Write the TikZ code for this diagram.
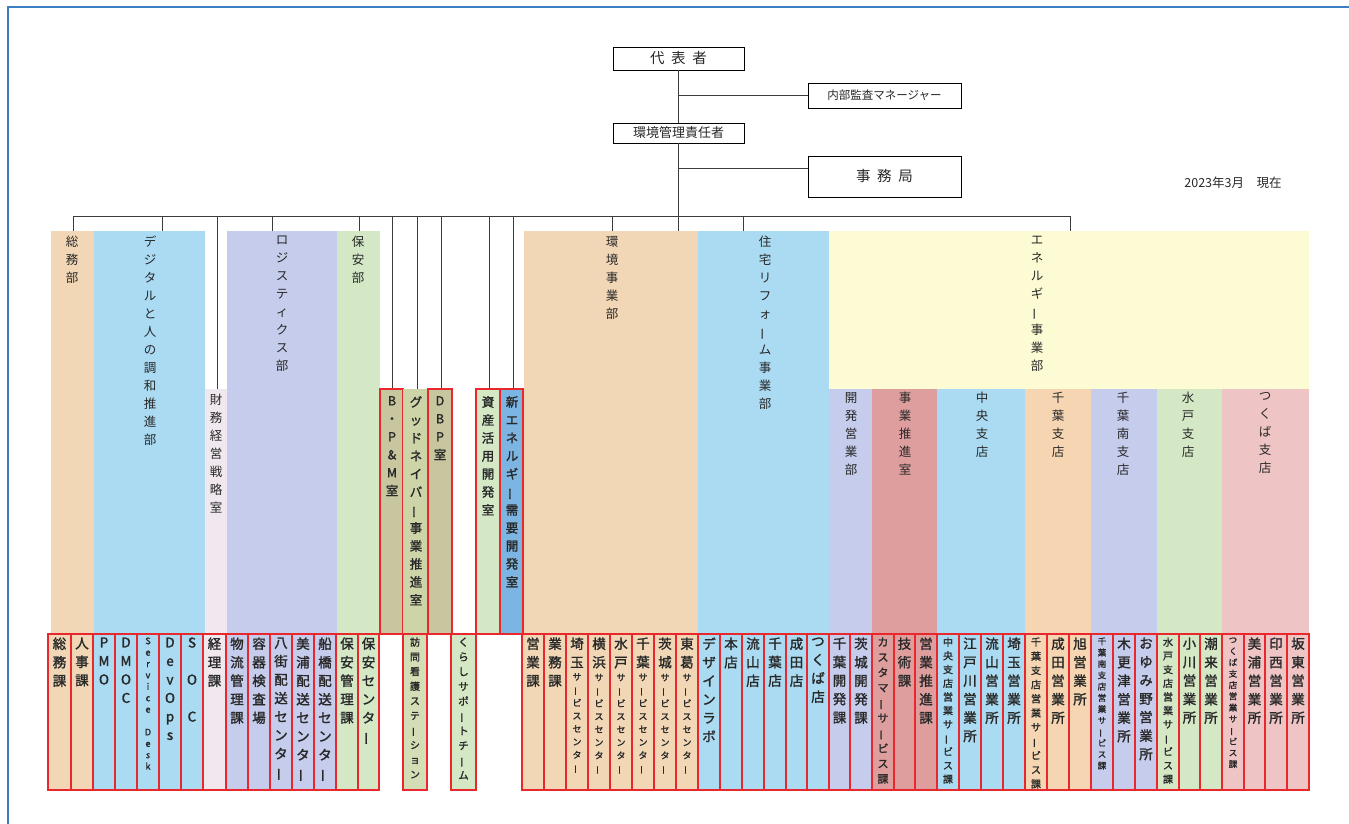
\documentclass[tikz,border=0pt]{standalone}
\usepackage{fontspec}
\usepackage{graphicx}
\usetikzlibrary{fit}
\newfontfamily\cjk{Noto Sans CJK JP}
\newfontfamily\cjkm[FakeBold=1.6]{Noto Sans CJK JP}
\newcommand\vb{\rotatebox[origin=c]{90}{ー}}
\definecolor{tan}{RGB}{242,215,182}
\definecolor{lblue}{RGB}{170,219,242}
\definecolor{lav}{RGB}{198,204,236}
\definecolor{green}{RGB}{212,232,198}
\definecolor{pale}{RGB}{240,232,238}
\definecolor{olive}{RGB}{200,198,158}
\definecolor{olivetwo}{RGB}{204,212,168}
\definecolor{nblue}{RGB}{124,180,226}
\definecolor{yel}{RGB}{253,251,212}
\definecolor{redp}{RGB}{222,158,158}
\definecolor{peach}{RGB}{246,214,178}
\definecolor{pink}{RGB}{238,196,196}
\definecolor{visit}{RGB}{212,222,182}
\definecolor{redb}{RGB}{232,40,45}
\definecolor{txt}{RGB}{40,40,40}
\definecolor{linec}{RGB}{60,60,60}
\definecolor{framec}{RGB}{58,127,193}
\tikzset{
  panel/.style={draw=none, inner sep=0pt},
  redpanel/.style={draw=redb, line width=1.4pt, inner sep=0pt},
  leafbox/.style={draw=redb, line width=1.4pt, inner sep=0pt},
  plbl/.style={font=\cjk\fontsize{12.5}{18}\selectfont, align=center, inner sep=0pt, anchor=north, text=txt},
  pbold/.style={plbl, font=\cjkm\fontsize{12.5}{18}\selectfont},
  lt/.style={font=\cjkm\fontsize{13.5}{18.5}\selectfont, align=center, inner sep=0pt, text=txt},
  lsm/.style={font=\cjkm\fontsize{9}{13}\selectfont, align=center, inner sep=0pt, text=txt},
  topbox/.style={draw=black, line width=0.9pt, fill=white, inner sep=0pt, text=txt},
  conn/.style={draw=linec, line width=1pt},
}
\newcommand\leaf[6]{%
  \node[leafbox, fill=#4, fit={(#2,634) (#3,790)}] (#1) {};
  \node[#5, anchor=north] (#1t) at ([yshift=-4pt]#1.north) {#6};
}
\newcommand\leafm[6]{%
  \node[leafbox, fill=#4, fit={(#2,634) (#3,790)}] (#1) {};
  \node[lt, anchor=north] (#1t) at ([yshift=-4pt]#1.north) {#5};
  \node[lsm, anchor=north] (#1s) at ([yshift=-5pt]#1t.south) {#6};
}
\begin{document}
\begin{tikzpicture}[x=1pt,y=-1pt]
\useasboundingbox (0,0) rectangle (1349,824);
\draw[framec, line width=1.5pt] (8,824) -- (8,7) -- (1349,7);

% top-level panels
\node[panel, fill=tan, fit={(51,231) (94,634)}] (somu) {};
\node[panel, fill=lblue, fit={(94,231) (205,634)}] (digi) {};
\node[panel, fill=pale, fit={(205,389) (227,634)}] (zaimu) {};
\node[panel, fill=lav, fit={(227,231) (337,634)}] (logi) {};
\node[panel, fill=green, fit={(337,231) (380,634)}] (hoan) {};
\node[redpanel, fill=olive, fit={(380,389) (403,634)}] (bpm) {};
\node[panel, fill=olivetwo, fit={(403,389) (428,634)}] (good) {};
\node[redpanel, fill=olive, fit={(428,389) (452,634)}] (dbp) {};
\node[redpanel, fill=green, fit={(476,389) (500,634)}] (shisan) {};
\node[redpanel, fill=nblue, fit={(500,389) (523,634)}] (shinene) {};
\node[panel, fill=tan, fit={(524,231) (698,634)}] (kanj) {};
\node[panel, fill=lblue, fit={(698,231) (829,634)}] (jutaku) {};
\node[panel, fill=yel, fit={(829,231) (1309,389)}] (ene) {};
\node[panel, fill=lav, fit={(829,389) (872,634)}] (kaihatsu) {};
\node[panel, fill=redp, fit={(872,389) (937,634)}] (suishin) {};
\node[panel, fill=lblue, fit={(937,389) (1025,634)}] (chuo) {};
\node[panel, fill=peach, fit={(1025,389) (1091,634)}] (chiba) {};
\node[panel, fill=lav, fit={(1091,389) (1157,634)}] (chibas) {};
\node[panel, fill=green, fit={(1157,389) (1222,634)}] (mito) {};
\node[panel, fill=pink, fit={(1222,389) (1309,634)}] (tsukuba) {};

% panel labels
\node[plbl] (somut) at (72,236) {総\\務\\部};
\node[plbl] (digit) at (150,236) {デ\\ジ\\タ\\ル\\と\\人\\の\\調\\和\\推\\進\\部};
\node[plbl] (zaimut) at (216,394) {財\\務\\経\\営\\戦\\略\\室};
\node[plbl] (logit) at (282,236) {ロ\\ジ\\ス\\テ\\ィ\\ク\\ス\\部};
\node[plbl] (hoant) at (358,236) {保\\安\\部};
\node[pbold] (bpmt) at (392,396) {B\\・\\P\\\&\\M\\室};
\node[pbold] (goodt) at (416,396) {グ\\ッ\\ド\\ネ\\イ\\バ\\\vb\\事\\業\\推\\進\\室};
\node[pbold] (dbpt) at (440,396) {D\\B\\P\\室};
\node[pbold] (shisant) at (488,396) {資\\産\\活\\用\\開\\発\\室};
\node[pbold] (shinenet) at (512,396) {新\\エ\\ネ\\ル\\ギ\\\vb\\需\\要\\開\\発\\室};
\node[plbl] (kanjt) at (612,236) {環\\境\\事\\業\\部};
\node[plbl] (jutakut) at (765,236) {住\\宅\\リ\\フ\\ォ\\\vb\\ム\\事\\業\\部};
\node[plbl] (enet) at (1037,236) {エ\\ネ\\ル\\ギ\\\vb\\事\\業\\部};
\node[plbl] (kaihatsut) at (851,392) {開\\発\\営\\業\\部};
\node[plbl] (suishint) at (905,392) {事\\業\\推\\進\\室};
\node[plbl] (chuot) at (982,392) {中\\央\\支\\店};
\node[plbl] (chibat) at (1058,392) {千\\葉\\支\\店};
\node[plbl] (chibast) at (1123,392) {千\\葉\\南\\支\\店};
\node[plbl] (mitot) at (1188,392) {水\\戸\\支\\店};
\node[plbl] (tsukubat) at (1265,392) {つ\\く\\ば\\支\\店};

% leaves
\leaf{L1}{48}{71}{tan}{lt}{総\\務\\課}
\leaf{L2}{71}{93}{tan}{lt}{人\\事\\課}
\leaf{L3}{93}{115}{lblue}{lt}{P\\M\\O}
\leaf{L4}{115}{137}{lblue}{lt}{D\\M\\O\\C}
\leaf{L5}{137}{159}{lblue}{lt,font=\cjkm\fontsize{9}{11.4}\selectfont}{S\\e\\r\\v\\i\\c\\e\\\mbox{}\\D\\e\\s\\k}
\leaf{L6}{159}{181}{lblue}{lt}{D\\e\\v\\O\\p\\s}
\leaf{L7}{181}{203}{lblue}{lt}{S\\\mbox{}\\O\\\mbox{}\\C}
\leaf{L8}{203}{226}{pale}{lt}{経\\理\\課}
\leaf{L9}{226}{248}{lav}{lt}{物\\流\\管\\理\\課}
\leaf{L10}{248}{270}{lav}{lt}{容\\器\\検\\査\\場}
\leaf{L11}{270}{292}{lav}{lt}{八\\街\\配\\送\\セ\\ン\\タ\\\vb}
\leaf{L12}{292}{314}{lav}{lt}{美\\浦\\配\\送\\セ\\ン\\タ\\\vb}
\leaf{L13}{314}{336}{lav}{lt}{船\\橋\\配\\送\\セ\\ン\\タ\\\vb}
\leaf{L14}{336}{358}{green}{lt}{保\\安\\管\\理\\課}
\leaf{L15}{358}{379}{green}{lt}{保\\安\\セ\\ン\\タ\\\vb}
\leaf{L16}{403}{427}{visit}{lt,font=\cjkm\fontsize{10}{14.7}\selectfont}{訪\\問\\看\\護\\ス\\テ\\\vb\\シ\\ョ\\ン}
\leaf{L17}{451}{476}{green}{lt,font=\cjkm\fontsize{10.5}{14.8}\selectfont}{く\\ら\\し\\サ\\ポ\\\vb\\ト\\チ\\\vb\\ム}
\leaf{L18}{522}{544}{tan}{lt}{営\\業\\課}
\leaf{L19}{544}{566}{tan}{lt}{業\\務\\課}
\leafm{L20}{566}{588}{tan}{埼\\玉}{サ\\\vb\\ビ\\ス\\セ\\ン\\タ\\\vb}
\leafm{L21}{588}{610}{tan}{横\\浜}{サ\\\vb\\ビ\\ス\\セ\\ン\\タ\\\vb}
\leafm{L22}{610}{632}{tan}{水\\戸}{サ\\\vb\\ビ\\ス\\セ\\ン\\タ\\\vb}
\leafm{L23}{632}{654}{tan}{千\\葉}{サ\\\vb\\ビ\\ス\\セ\\ン\\タ\\\vb}
\leafm{L24}{654}{676}{tan}{茨\\城}{サ\\\vb\\ビ\\ス\\セ\\ン\\タ\\\vb}
\leafm{L25}{676}{698}{tan}{東\\葛}{サ\\\vb\\ビ\\ス\\セ\\ン\\タ\\\vb}
\leaf{L26}{698}{720}{lblue}{lt}{デ\\ザ\\イ\\ン\\ラ\\ボ}
\leaf{L27}{720}{742}{lblue}{lt}{本\\店}
\leaf{L28}{742}{764}{lblue}{lt}{流\\山\\店}
\leaf{L29}{764}{786}{lblue}{lt}{千\\葉\\店}
\leaf{L30}{786}{807}{lblue}{lt}{成\\田\\店}
\leaf{L31}{807}{829}{lblue}{lt}{つ\\く\\ば\\店}
\leaf{L32}{829}{850}{lav}{lt}{千\\葉\\開\\発\\課}
\leaf{L33}{850}{872}{lav}{lt}{茨\\城\\開\\発\\課}
\leaf{L34}{872}{894}{redp}{lt,font=\cjkm\fontsize{11}{15.2}\selectfont}{カ\\ス\\タ\\マ\\\vb\\サ\\\vb\\ビ\\ス\\課}
\leaf{L35}{894}{915}{redp}{lt}{技\\術\\課}
\leaf{L36}{915}{937}{redp}{lt}{営\\業\\推\\進\\課}
\leaf{L37}{937}{959}{lblue}{lt,font=\cjkm\fontsize{10}{13.7}\selectfont}{中\\央\\支\\店\\営\\業\\サ\\\vb\\ビ\\ス\\課}
\leaf{L38}{959}{981}{lblue}{lt}{江\\戸\\川\\営\\業\\所}
\leaf{L39}{981}{1003}{lblue}{lt}{流\\山\\営\\業\\所}
\leaf{L40}{1003}{1025}{lblue}{lt}{埼\\玉\\営\\業\\所}
\leaf{L41}{1025}{1047}{peach}{lt,font=\cjkm\fontsize{10}{14.2}\selectfont}{千\\葉\\支\\店\\営\\業\\サ\\\vb\\ビ\\ス\\課}
\leaf{L42}{1047}{1069}{peach}{lt}{成\\田\\営\\業\\所}
\leaf{L43}{1069}{1091}{peach}{lt}{旭\\営\\業\\所}
\leaf{L44}{1091}{1113}{lav}{lt,font=\cjkm\fontsize{8.5}{11.3}\selectfont}{千\\葉\\南\\支\\店\\営\\業\\サ\\\vb\\ビ\\ス\\課}
\leaf{L45}{1113}{1135}{lav}{lt}{木\\更\\津\\営\\業\\所}
\leaf{L46}{1135}{1157}{lav}{lt}{お\\ゆ\\み\\野\\営\\業\\所}
\leaf{L47}{1157}{1179}{green}{lt,font=\cjkm\fontsize{10}{13.7}\selectfont}{水\\戸\\支\\店\\営\\業\\サ\\\vb\\ビ\\ス\\課}
\leaf{L48}{1179}{1200}{green}{lt}{小\\川\\営\\業\\所}
\leaf{L49}{1200}{1222}{green}{lt}{潮\\来\\営\\業\\所}
\leaf{L50}{1222}{1244}{pink}{lt,font=\cjkm\fontsize{8.5}{11.3}\selectfont}{つ\\く\\ば\\支\\店\\営\\業\\サ\\\vb\\ビ\\ス\\課}
\leaf{L51}{1244}{1265}{pink}{lt}{美\\浦\\営\\業\\所}
\leaf{L52}{1265}{1287}{pink}{lt}{印\\西\\営\\業\\所}
\leaf{L53}{1287}{1309}{pink}{lt}{坂\\東\\営\\業\\所}

% top boxes
\node[topbox, fit={(613,47) (744,70)}] (daihyo) {};
\node[font=\cjk\fontsize{14.5}{16}\selectfont, text=txt] (daihyot) at (daihyo.center) {代\hspace{0.45em}表\hspace{0.45em}者};
\node[topbox, fit={(808,83) (961,108)}] (naibu) {};
\node[font=\cjk\fontsize{11.5}{13}\selectfont, text=txt] (naibut) at (naibu.center) {内部監査マネージャー};
\node[topbox, fit={(613,123) (744,143)}] (sekinin) {};
\node[font=\cjk\fontsize{13}{14}\selectfont, text=txt] (sekinint) at (sekinin.center) {環境管理責任者};
\node[topbox, fit={(808,156) (961,197)}] (jimu) {};
\node[font=\cjk\fontsize{14.5}{16}\selectfont, text=txt] (jimut) at (jimu.center) {事\hspace{0.45em}務\hspace{0.45em}局};
\node[font=\cjk\fontsize{12.5}{14}\selectfont, text=txt] (date) at (1233,183) {2023年3月　現在};

% connectors
\draw[conn] (daihyo.south) -- (sekinin.north);
\draw[conn] (daihyo.south |- naibu.west) -- (naibu.west);
\coordinate (jb) at (678.5,168);
\draw[conn] (jb) -- (jb -| jimu.west);
\draw[conn] (sekinin.south) -- (sekinin.south |- kanj.north);
\coordinate (busL) at (73,216);
\coordinate (busR) at (1070,216);
\draw[conn] (busL) -- (busR);
\foreach \x/\n in {73/somu,162/digi,217/zaimu,272/logi,359/hoan,392/bpm,417/good,441/dbp,489/shisan,513/shinene,612/kanj,743/jutaku,1070/ene}
  \draw[conn] (\x,216) coordinate (dtop) -- (dtop |- \n.north);
\end{tikzpicture}
\end{document}
